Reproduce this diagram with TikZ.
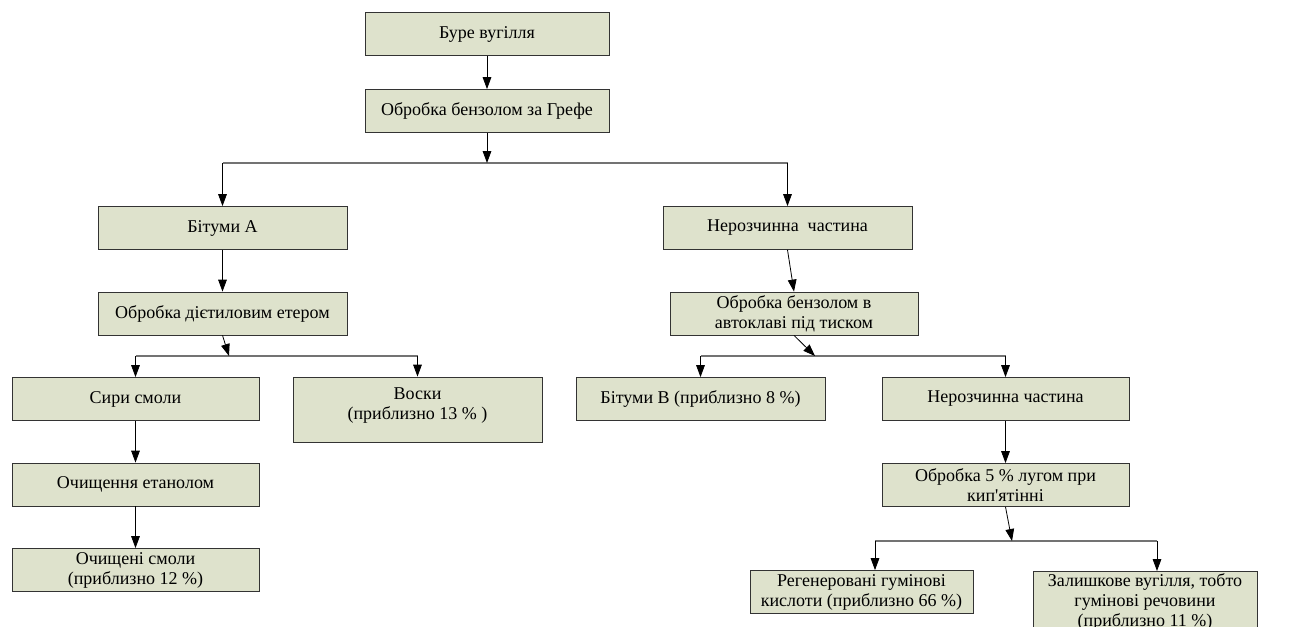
\documentclass[tikz,border=0pt]{standalone}
\usepackage{fontspec}
\setmainfont{Liberation Serif}
\usetikzlibrary{arrows.meta}
\definecolor{boxfill}{RGB}{222,226,204}

\begin{document}
\begin{tikzpicture}[x=0.75pt,y=-0.75pt,>={Triangle[length=9pt,width=6.5pt]},
                    font=\fontsize{13.5}{15}\selectfont]
        \tikzstyle{blk}=[draw=black!80,fill=boxfill,line width=0.6pt,align=center,inner sep=2pt,
                         minimum width=186.75pt,minimum height=32.25pt]
        \tikzstyle{wire}=[black,line width=0.6pt]
        \tikzstyle{bus}=[black!55,line width=0.9pt]

        \useasboundingbox (0,0) rectangle (1289,626);
        \clip (0,0) rectangle (1289,626);

        \node[blk,minimum width=183pt]    (B1) at (487,34)     {Буре вугілля};
        \node[blk,minimum width=183pt]    (B2) at (487,111)    {Обробка бензолом за Грефе};
        \node[blk]                        (BA) at (222.5,228)  {Бітуми А};
        \node[blk]                        (N1) at (787.5,228)  {Нерозчинна\ \ частина};
        \node[blk]                        (DE) at (222.5,313.5) {Обробка дієтиловим етером};
        \node[blk,minimum width=186pt]    (AK) at (794,313.5)  {Обробка бензолом в\\автоклаві під тиском};
        \node[blk,minimum width=185.25pt] (SM) at (135.5,399)  {Сири смоли};
        \node[blk,minimum height=48.75pt,
              label={[anchor=north,align=center,yshift=-4.5pt]north:{Воски\\(приблизно 13 \% )}}]
                                          (VO) at (417.5,409.5) {}; % text at top
        \node[blk,minimum width=185.25pt] (OE) at (135.5,484.5) {Очищення етанолом};
        \node[blk,minimum width=185.25pt] (OS) at (135.5,570)  {Очищені смоли\\(приблизно 12 \%)};
        \node[blk]                        (BB) at (700.5,399)  {Бітуми В (приблизно 8 \%)};
        \node[blk,minimum width=185.25pt] (N2) at (1005.5,399) {Нерозчинна частина};
        \node[blk,minimum width=185.25pt] (LU) at (1005.5,485) {Обробка 5 \% лугом при\\кип\textquotesingle ятінні};
        \node[blk,minimum width=167.25pt] (RG) at (861.5,592)  {Регенеровані гумінові\\кислоти (приблизно 66 \%)};
        \node[blk,minimum width=168pt,anchor=north]
                                          (ZV) at (1145,571)   {Залишкове вугілля, тобто\\гумінові речовини\\(приблизно 11 \%)};

        \coordinate (J1)  at (487,163);
        \coordinate (J2)  at (229,356);
        \coordinate (J3)  at (815,356);
        \coordinate (J4)  at (1012,541);
        \coordinate (J4L) at (875,541);
        \coordinate (J4R) at (1157,541);

        \draw[bus] (BA.north |- J1) -- (N1.north |- J1);
        \draw[bus] (SM.north |- J2) -- (VO.north |- J2);
        \draw[bus] (BB.north |- J3) -- (N2.north |- J3);
        \draw[bus] (J4L) -- (J4R);

        \path[->,wire]
                  (B1)            edge (B2)
                  (B2)            edge (J1)
                  (BA.north |- J1) edge (BA.north)
                  (N1.north |- J1) edge (N1.north)
                  (BA)            edge (DE)
                  (DE.south)      edge (J2)
                  (SM.north |- J2) edge (SM.north)
                  (VO.north |- J2) edge (VO.north)
                  (SM)            edge (OE)
                  (OE)            edge (OS)
                  (N1.south)      edge (AK.north)
                  (AK.south)      edge (J3)
                  (BB.north |- J3) edge (BB.north)
                  (N2.north |- J3) edge (N2.north)
                  (N2)            edge (LU)
                  (LU.south)      edge (J4)
                  (J4L)           edge (RG.north -| J4L)
                  (J4R)           edge (ZV.north -| J4R);
\end{tikzpicture}
\end{document}
